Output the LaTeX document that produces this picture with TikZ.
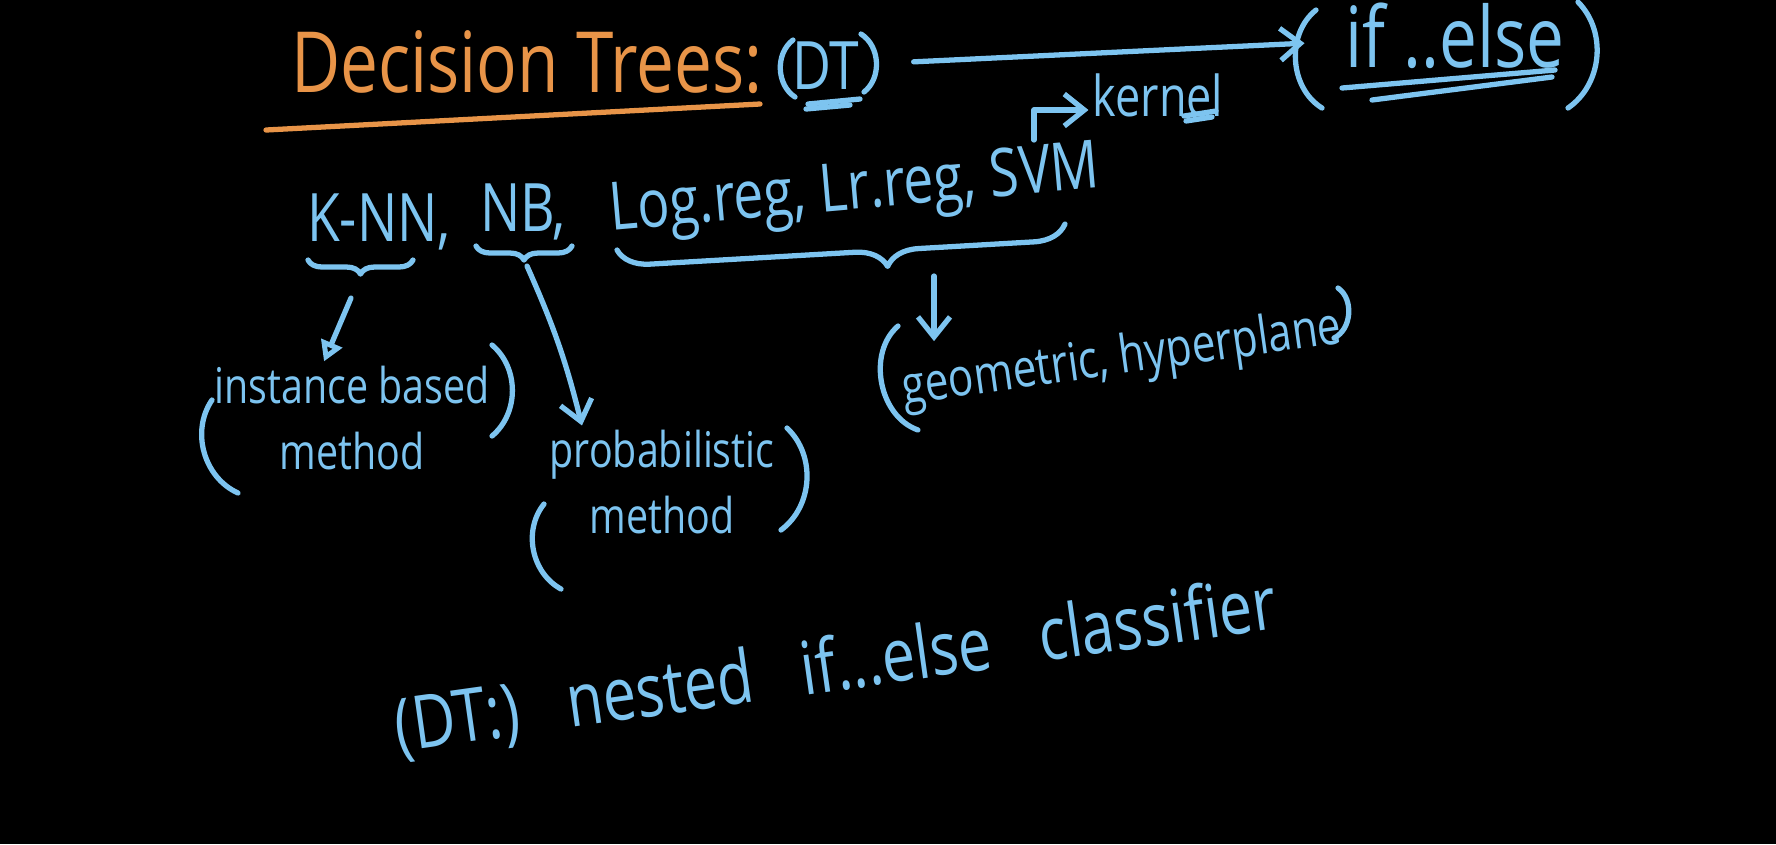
\documentclass[tikz,border=0pt]{standalone}
\usepackage{fontspec}
\setmainfont{Open Sans}[FakeStretch=0.8]
\usetikzlibrary{
    arrows.meta,
    decorations.pathreplacing
}
\definecolor{chalkblue}{RGB}{125,196,240}
\definecolor{chalkorange}{RGB}{232,148,72}

\tikzset{
    pen/.style={draw=chalkblue, line width=1.5pt, line cap=round, line join=round},
    orangepen/.style={pen, draw=chalkorange},
    word/.style={text=chalkblue, inner sep=1pt, font=\fontsize{#1}{#1}\selectfont},
    note/.style={text=chalkblue, inner sep=1pt, align=center, font=\fontsize{14}{19}\selectfont},
    curly/.style={pen, decorate, decoration={brace, mirror, amplitude=#1}},
    barb/.style={pen, -{Straight Barb[length=0.2cm, width=0.32cm]}}
}

\begin{document}
\begin{tikzpicture}[x=0.01cm, y=-0.01cm]
\useasboundingbox (0,0) rectangle (1776,844);
\fill[black] (0,0) rectangle (1776,844);

% title
\node[word=24, text=chalkorange] (title) at (527,62) {Decision Trees:};
\draw[orangepen] (266,130) -- (760,104);

\node[word=19] (dt) at (826,66) {DT};
\draw[pen] (793,40) to[bend right=55] (795,97);
\draw[pen] (861,34) to[bend left=55] (864,92);
\draw[pen] (808,104) -- (860,99);
\draw[pen] (806,109) -- (850,105);

\node[word=24] (ifelse) at (1455,36) {if ..else};
\draw[pen] (1316,10) to[bend right=55] (1322,108);
\draw[pen] (1578,2) to[bend left=50] (1568,108);
\draw[pen] (1342,88) -- (1555,70);
\draw[pen] (1372,100) -- (1552,77);
\draw[barb, shorten <=0.5cm, shorten >=0.37cm] (dt) -- (ifelse);

% kernel
\node[word=16] (kernel) at (1158,95) {kernel};
\draw[pen] (1184,116) -- (1216,111);
\draw[pen] (1186,121) -- (1212,117);
\coordinate (svmtop) at (1034,140);
\draw[barb] (svmtop) |- ([yshift=-0.15cm]kernel.west);

% the classifiers
\node[word=19] (knn) at (379,222) {K-NN,};
\node[word=19] (nb) at (523,212) {NB,};
\node[word=19, rotate=5] (linear) at (855,193) {Log.reg, Lr.reg, SVM};

\draw[curly=0.14cm] (308,260) -- (413,260);
\draw[curly=0.14cm] (476,246) -- (572,246);
\draw[pen, decorate, decoration={brace, mirror, amplitude=0.32cm, aspect=0.6}] (617,250) -- (1065,224);

% instance based
\node[note] (inst) at (352,418) {instance based\\method};
\draw[pen] (212,400) to[bend right=50] (238,493);
\draw[pen] (492,345) to[bend left=50] (492,436);
\coordinate (knntip) at (351,298);
\draw[pen, -{Triangle[open, length=0.2cm, width=0.22cm]}] (knntip) -- ([xshift=-0.28cm]inst.north);

% probabilistic
\node[note] (prob) at (662,482) {probabilistic\\method};
\draw[pen] (544,504) to[bend right=50] (561,589);
\draw[pen] (787,428) to[bend left=50] (781,530);
\coordinate (nbtip) at (527,266);
\draw[barb] (nbtip) to[bend left=5] ([xshift=-0.8cm]prob.north);

% geometric
\node[word=15, rotate=8] (geo) at (1122,360) {geometric, hyperplane};
\draw[pen] (898,326) to[bend right=60] (918,430);
\draw[pen] (1338,288) to[bend left=60] (1334,338);
\coordinate (lintip) at (934,276);
\draw[barb, shorten >=0.2cm] (lintip) -- (lintip |- geo.north west);

\node[word=21, rotate=8] (dtnote) at (836,668) {(DT:)\hspace{0.45em} nested\hspace{0.45em} if...else\hspace{0.45em} classifier};
\end{tikzpicture}
\end{document}
